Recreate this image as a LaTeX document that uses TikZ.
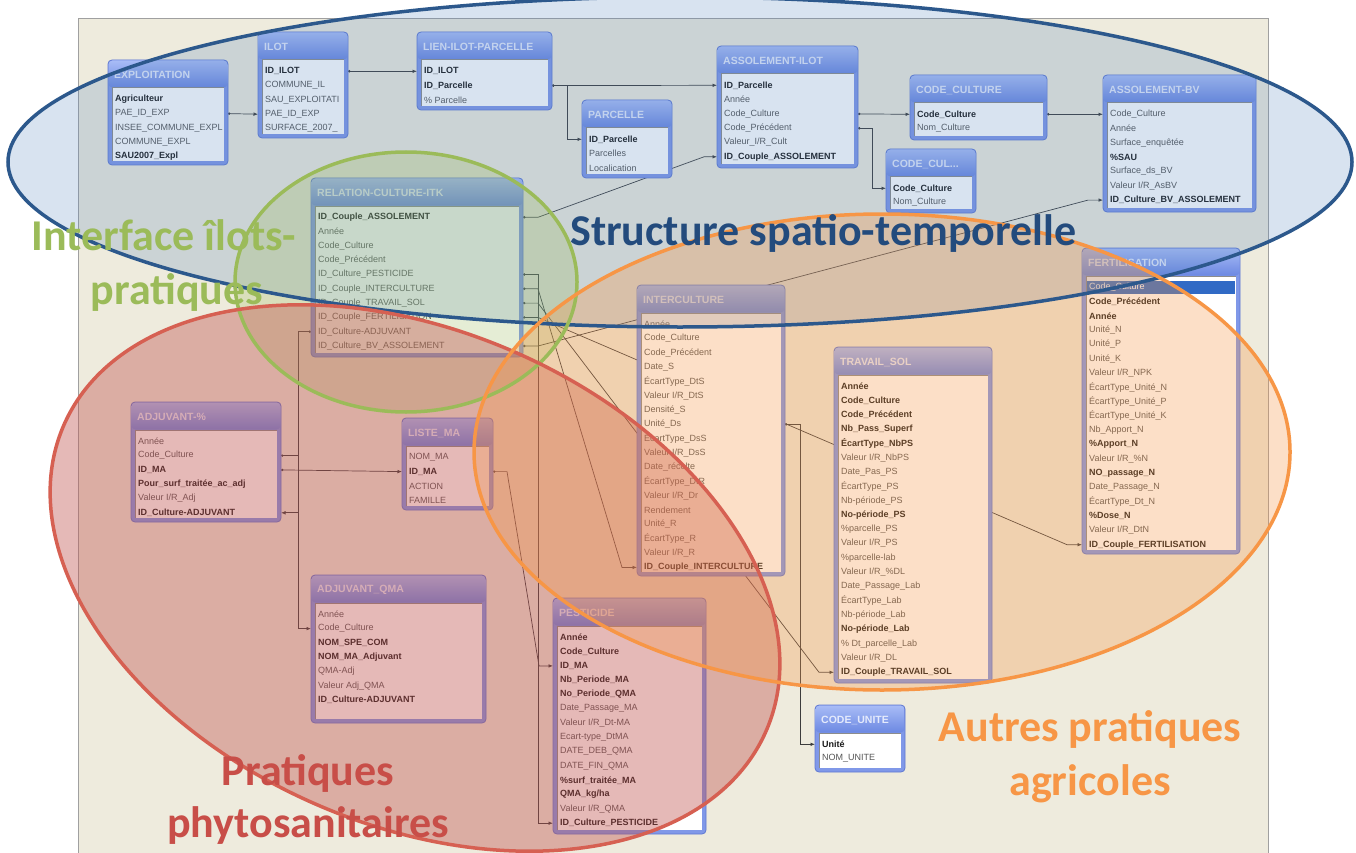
\documentclass[tikz,border=0pt]{standalone}
\usepackage{fontspec}
\setmainfont{Liberation Sans}
\newfontfamily\zonefont{Carlito}
\usetikzlibrary{
	positioning,
	calc,
	arrows.meta
}

\definecolor{winbg}{RGB}{238,235,221}
\definecolor{winedge}{RGB}{160,160,160}
\definecolor{tabedge}{RGB}{95,120,210}
\definecolor{tabbody}{RGB}{128,152,232}
\definecolor{headtop}{RGB}{168,188,246}
\definecolor{headbot}{RGB}{108,136,226}
\definecolor{headtext}{RGB}{228,234,252}
\definecolor{rowtext}{RGB}{85,85,85}
\definecolor{keytext}{RGB}{25,25,25}
\definecolor{insetgray}{RGB}{140,140,140}
\definecolor{linkgray}{RGB}{60,60,60}
\definecolor{selblue}{RGB}{49,106,197}
\definecolor{bluezone}{RGB}{79,129,189}
\definecolor{blueline}{RGB}{44,88,140}
\definecolor{bluetext}{RGB}{35,75,125}
\definecolor{greenzone}{RGB}{155,187,89}
\definecolor{redzone}{RGB}{192,80,77}
\definecolor{redline}{RGB}{214,96,82}
\definecolor{redtext}{RGB}{200,78,72}
\definecolor{orangezone}{RGB}{247,150,70}

\pgfdeclarelayer{bg}
\pgfdeclarelayer{links}
\pgfsetlayers{bg,links,main}

\newcommand{\keyf}[1]{\textbf{\color{keytext}#1}}

% #1 name, #2 x, #3 y (top), #4 width, #5 height, #6 title, #7 rows
\newcommand{\dbtable}[7]{%
	\draw[tabframe] (#2,#3) rectangle ++(#4,#5);
	\shade[tabhead] (#2+0.5,#3+0.5) rectangle ++(#4-1,27);
	\node[tabtitle] (#1) at (#2+6,#3+15) {#6};
	\fill[white] (#2+4,#3+28) rectangle (#2+#4-4,#3+#5-4);
	\draw[insetgray, line width=1pt] (#2+4,#3+#5-4) |- (#2+#4-4,#3+28);
	\begin{scope}
		\clip (#2+5,#3+29) rectangle (#2+#4-5,#3+#5-5);
		\foreach \txt [count=\i] in {#7}
			\node[rowtxt] at (#2+7,#3+25+\i*14.3) {\txt};
	\end{scope}
	\foreach \txt [count=\i] in {#7} {
		\coordinate (#1-\i-w) at (#2,#3+25+\i*14.3);
		\coordinate (#1-\i-e) at (#2+#4,#3+25+\i*14.3);
	}%
}

\begin{document}
\begin{tikzpicture}[x=1pt, y=-1pt,
			tabframe/.style={rounded corners=4pt, draw=tabedge, fill=tabbody, line width=0.8pt},
			tabhead/.style={rounded corners=4pt, top color=headtop, bottom color=headbot},
			tabtitle/.style={anchor=west, inner sep=0, font=\fontsize{10.5}{12}\selectfont\bfseries, text=headtext},
			rowtxt/.style={anchor=west, inner sep=0, font=\fontsize{9}{10}\selectfont, text=rowtext},
			link/.style={draw=linkgray, line width=0.7pt, {Circle[length=2.4pt]}-{Latex[length=4.5pt,width=3.6pt]}},
			zone/.style={line width=3.5pt},
			zonelabel/.style={anchor=base, inner sep=0, font=\zonefont\fontsize{44}{50}\selectfont\bfseries}]

	\useasboundingbox (0,0) rectangle (1356,853);

	\begin{pgfonlayer}{bg}
		\fill[white] (0,0) rectangle (1356,853);
		\draw[winedge, fill=winbg] (78,18) rectangle (1268,870);
	\end{pgfonlayer}

	% tables
	\dbtable{expl}{108}{60}{120}{105}{EXPLOITATION}{\keyf{Agriculteur}, PAE\_ID\_EXP, INSEE\_COMMUNE\_EXPL, COMMUNE\_EXPL, \keyf{SAU2007\_Expl}}
	\dbtable{ilot}{258}{32}{90}{106}{ILOT}{\keyf{ID\_ILOT}, COMMUNE\_IL, SAU\_EXPLOITATI, PAE\_ID\_EXP, SURFACE\_2007\_}
	\dbtable{lien}{417}{32}{135}{78}{LIEN-ILOT-PARCELLE}{\keyf{ID\_ILOT}, \keyf{ID\_Parcelle}, \% Parcelle}
	\dbtable{parc}{582}{100}{90}{78}{PARCELLE}{\keyf{ID\_Parcelle}, Parcelles, Localication}
	\dbtable{assi}{717}{46}{141}{122}{ASSOLEMENT-ILOT}{\keyf{ID\_Parcelle}, Année, Code\_Culture, Code\_Précédent, Valeur\_I/R\_Cult, \keyf{ID\_Couple\_ASSOLEMENT}}
	\dbtable{ccult}{910}{75}{137}{65}{CODE\_CULTURE}{\keyf{Code\_Culture}, Nom\_Culture}
	\dbtable{ccul2}{886}{149}{90}{64}{CODE\_CUL...}{\keyf{Code\_Culture}, Nom\_Culture}
	\dbtable{asbv}{1103}{75}{153}{137}{ASSOLEMENT-BV}{Code\_Culture, Année, Surface\_enquêtée, \keyf{\%SAU}, Surface\_ds\_BV, Valeur I/R\_AsBV, \keyf{ID\_Culture\_BV\_ASSOLEMENT}}
	\dbtable{rel}{311}{178}{212}{179}{RELATION-CULTURE-ITK}{\keyf{ID\_Couple\_ASSOLEMENT}, Année, Code\_Culture, Code\_Précédent, ID\_Culture\_PESTICIDE, ID\_Couple\_INTERCULTURE, ID\_Couple\_TRAVAIL\_SOL, ID\_Couple\_FERTILISATION, ID\_Culture-ADJUVANT, ID\_Culture\_BV\_ASSOLEMENT}
	\dbtable{inter}{637}{285}{148}{291}{INTERCULTURE}{Année, Code\_Culture, Code\_Précédent, Date\_S, ÉcartType\_DtS, Valeur I/R\_DtS, Densité\_S, Unité\_Ds, ÉcartType\_DsS, Valeur I/R\_DsS, Date\_récolte, ÉcartType\_DtR, Valeur I/R\_Dr, Rendement, Unité\_R, ÉcartType\_R, Valeur I/R\_R, \keyf{ID\_Couple\_INTERCULTURE}}
	\dbtable{trav}{834}{347}{158}{336}{TRAVAIL\_SOL}{\keyf{Année}, \keyf{Code\_Culture}, \keyf{Code\_Précédent}, \keyf{Nb\_Pass\_Superf}, \keyf{ÉcartType\_NbPS}, Valeur I/R\_NbPS, Date\_Pas\_PS, ÉcartType\_PS, Nb-période\_PS, \keyf{No-période\_PS}, \%parcelle\_PS, Valeur I/R\_PS, \%parcelle-lab, Valeur I/R\_\%DL, Date\_Passage\_Lab, ÉcartType\_Lab, Nb-période\_Lab, \keyf{No-période\_Lab}, \% Dt\_parcelle\_Lab, Valeur I/R\_DL, \keyf{ID\_Couple\_TRAVAIL\_SOL}}
	\dbtable{fert}{1082}{248}{158}{306}{FERTILISATION}{\relax, \keyf{Code\_Précédent}, \keyf{Année}, Unité\_N, Unité\_P, Unité\_K, Valeur I/R\_NPK, ÉcartType\_Unité\_N, ÉcartType\_Unité\_P, ÉcartType\_Unité\_K, Nb\_Apport\_N, \keyf{\%Apport\_N}, Valeur I/R\_\%N, \keyf{NO\_passage\_N}, Date\_Passage\_N, ÉcartType\_Dt\_N, \keyf{\%Dose\_N}, Valeur I/R\_DtN, \keyf{ID\_Couple\_FERTILISATION}}
	\fill[selblue] ($(fert-1-w)+(5,-6.5)$) rectangle ($(fert-1-e)+(-5,6.5)$);
	\node[rowtxt, text=white] (fertsel) at ($(fert-1-w)+(7,0)$) {Code\_Culture};
	\dbtable{adjp}{131}{402}{150}{120}{ADJUVANT-\%}{Année, Code\_Culture, \keyf{ID\_MA}, \keyf{Pour\_surf\_traitée\_ac\_adj}, Valeur I/R\_Adj, \keyf{ID\_Culture-ADJUVANT}}
	\dbtable{liste}{402}{418}{91}{92}{LISTE\_MA}{NOM\_MA, \keyf{ID\_MA}, ACTION, FAMILLE}
	\dbtable{adjq}{311}{575}{175}{148}{ADJUVANT\_QMA}{Année, Code\_Culture, \keyf{NOM\_SPE\_COM}, \keyf{NOM\_MA\_Adjuvant}, QMA-Adj, Valeur Adj\_QMA, \keyf{ID\_Culture-ADJUVANT}}
	\dbtable{pest}{553}{598}{153}{236}{PESTICIDE}{\keyf{Année}, \keyf{Code\_Culture}, \keyf{ID\_MA}, \keyf{Nb\_Periode\_MA}, \keyf{No\_Periode\_QMA}, Date\_Passage\_MA, Valeur I/R\_Dt-MA, Ecart-type\_DtMA, DATE\_DEB\_QMA, DATE\_FIN\_QMA, \keyf{\%surf\_traitée\_MA}, \keyf{QMA\_kg/ha}, Valeur I/R\_QMA, \keyf{ID\_Culture\_PESTICIDE}}
	\dbtable{cunit}{815}{705}{90}{67}{CODE\_UNITE}{\keyf{Unité}, NOM\_UNITE}

	% relations
	\begin{pgfonlayer}{links}
		\draw[link] (expl-2-e) -- (ilot-4-w);
		\draw[link] (ilot-1-e) -- (lien-1-w);
		\draw[link] (lien-2-e) -- (assi-1-w);
		\draw[link] (lien-2-e) -- ++(15,0) |- (parc-1-w);
		\draw[link] (rel-1-e) -- ++(15,0) -- ($(assi-6-w)+(-13,0)$) -- (assi-6-w);
		\draw[link] (assi-3-e) -- (ccult-1-w);
		\draw[link] (assi-4-e) -- ++(14,0) |- (ccul2-1-w);
		\draw[link] (ccult-1-e) -- (asbv-1-w);
		\draw[link] (rel-10-e) -- ++(15,0) -- ($(asbv-7-w)+(-15,0)$) -- (asbv-7-w);
		\draw[link] (rel-5-e) -- ++(15,0) |- (pest-14-w);
		\draw[link] (rel-6-e) -- ++(15,0) -- ($(inter-18-w)+(-15,0)$) -- (inter-18-w);
		\draw[link] (rel-7-e) -- ++(15,0) -- ($(trav-21-w)+(-15,0)$) -- (trav-21-w);
		\draw[link] (rel-8-e) -- ++(15,0) -- ($(fert-19-w)+(-15,0)$) -- (fert-19-w);
		\draw[link] (inter-8-e) -- ++(15,0) |- (cunit-1-w);
		\draw[link] (rel-9-w) -- ++(-13,0) |- (adjp-6-e);
		\draw[link] (adjp-2-e) -- ++(17,0) |- (adjq-2-w);
		\draw[link] (adjp-3-e) -- (liste-2-w);
		\draw[link] (liste-2-e) -- ++(14,0) -- ($(pest-3-w)+(-14,0)$) -- (pest-3-w);
	\end{pgfonlayer}

	% zones
	\fill[bluezone, fill opacity=0.22] (680,162) ellipse [x radius=672, y radius=165];
	\fill[greenzone, fill opacity=0.25] (406,282) ellipse [x radius=171, y radius=130];
	\fill[redzone, fill opacity=0.4, rotate around={-23.5:(415,578)}] (415,578) ellipse [x radius=383, y radius=247];
	\fill[orangezone, fill opacity=0.3] (882,452) ellipse [x radius=408, y radius=238];
	\draw[zone, blueline] (680,162) ellipse [x radius=672, y radius=165];
	\draw[zone, greenzone] (406,282) ellipse [x radius=171, y radius=130];
	\draw[zone, redline, rotate around={-23.5:(415,578)}] (415,578) ellipse [x radius=383, y radius=247];
	\draw[zone, orangezone] (882,452) ellipse [x radius=408, y radius=238];

	\node[zonelabel, text=bluetext, anchor=base west] (structure) at (570,245) {Structure spatio-temporelle};
	\node[zonelabel, text=greenzone] (interface) at (164,250) {Interface îlots-};
	\node[zonelabel, text=greenzone] (interface2) at (177,304) {pratiques};
	\node[zonelabel, text=redtext] (phyto) at (308,785) {Pratiques};
	\node[zonelabel, text=redtext] (phyto2) at (308,837) {phytosanitaires};
	\node[zonelabel, text=orangezone] (autres) at (1090,741) {Autres pratiques};
	\node[zonelabel, text=orangezone] (autres2) at (1090,795) {agricoles};
\end{tikzpicture}
\end{document}
